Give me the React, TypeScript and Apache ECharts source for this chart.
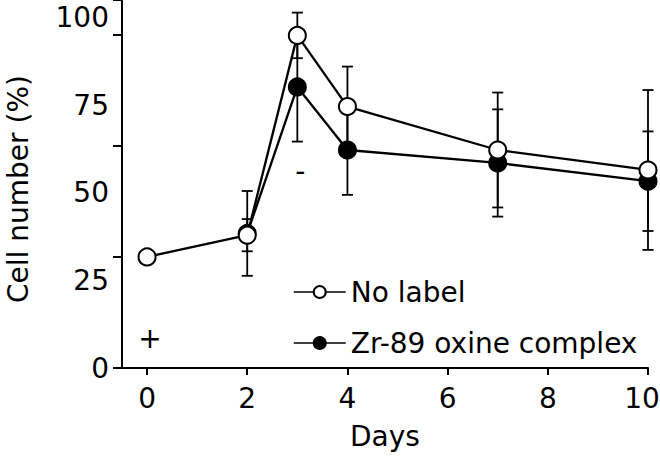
import React, { useEffect, useRef } from "react";
import * as echarts from "echarts";

const FONT = "DejaVu Sans";

const days = [0, 2, 3, 4, 7, 10];
const noLabel = [31.7, 37.9, 94.9, 74.6, 62.2, 56.5];
const noLabelErr = [0, 4.6, 6.5, 11.4, 16.4, 22.8];

const zrDays = [2, 3, 4, 7, 10];
const zr = [38.4, 80.2, 62.2, 58.5, 53.3];
const zrErr = [12.1, 15.6, 12.8, 15.3, 14.2];

const xTicks = [0, 2, 4, 6, 8, 10];
const yLabelTicks = [0, 25, 50, 75, 100];

const annotations = [
  { day: 0, y: 8.3, text: "+" },
  { day: 3, y: 56.2, text: "-" },
];

const seriesNames = ["No label", "Zr-89 oxine complex"];

export default function App() {
  const ref = useRef<HTMLDivElement>(null);

  useEffect(() => {
    if (!ref.current) return;
    const chart = echarts.init(ref.current, undefined, { renderer: "svg" });

    const errData: number[][] = [];
    days.forEach((d, i) => {
      if (noLabelErr[i] > 0) errData.push([d, noLabel[i] - noLabelErr[i], noLabel[i] + noLabelErr[i]]);
    });
    zrDays.forEach((d, i) => {
      if (zrErr[i] > 0) errData.push([d, zr[i] - zrErr[i], zr[i] + zrErr[i]]);
    });

    const txt = { fontFamily: FONT, fontSize: 28, color: "#000" };
    const lastTick = xTicks[xTicks.length - 1];

    chart.setOption({
      animation: false,
      textStyle: { fontFamily: FONT },
      grid: { left: 122, top: 0, width: 526, height: 368, outerBoundsMode: "none", containLabel: false },
      legend: {
        data: seriesNames,
        orient: "vertical",
        left: 293,
        top: 278,
        padding: 0,
        itemWidth: 52,
        itemHeight: 15,
        itemGap: 23,
        textStyle: txt,
        selectedMode: false,
        lineStyle: { width: 1.5 },
      },
      xAxis: {
        type: "value",
        min: -0.5,
        max: 10,
        name: "Days",
        nameLocation: "middle",
        nameGap: 54,
        nameTextStyle: txt,
        axisLine: { onZero: false, lineStyle: { color: "#000", width: 2 } },
        axisTick: { customValues: xTicks, length: 7, lineStyle: { color: "#000", width: 2 } },
        axisLabel: {
          customValues: xTicks,
          margin: 16,
          ...txt,
          formatter: (v: number) => (v === lastTick ? `{r|${v}}` : String(v)),
          rich: { r: { ...txt, padding: [0, 12, 0, 0] } },
        },
        splitLine: { show: false },
      },
      yAxis: [
        {
          type: "value",
          position: "left",
          min: 0,
          max: 105,
          interval: 25,
          name: "Cell number (%)",
          nameLocation: "middle",
          nameGap: 90,
          nameTextStyle: { ...txt, padding: [0, 10, 0, 0] },
          axisLine: { show: true, onZero: false, lineStyle: { color: "#000", width: 2 } },
          axisTick: { show: false },
          axisLabel: {
            margin: 13,
            ...txt,
            formatter: (v: number) => (yLabelTicks.includes(v) ? String(v) : ""),
          },
          splitLine: { show: false },
        },
        {
          type: "value",
          position: "left",
          offset: 0,
          min: 0,
          max: 105,
          interval: 31.73,
          axisLine: { show: false, onZero: false },
          axisTick: { show: true, length: 9, lineStyle: { color: "#000", width: 2 } },
          axisLabel: { show: false },
          splitLine: { show: false },
        },
      ],
      series: [
        {
          type: "custom",
          name: "err",
          z: 1,
          data: errData,
          encode: { x: 0, y: [1, 2] },
          silent: true,
          renderItem: (params: any, api: any) => {
            const x = api.value(0);
            const p1 = api.coord([x, api.value(1)]);
            const p2 = api.coord([x, api.value(2)]);
            const w = 5.5;
            const style = { stroke: "#000", lineWidth: 1.8, fill: "none" };
            return {
              type: "group",
              children: [
                { type: "line", shape: { x1: p1[0], y1: p1[1], x2: p2[0], y2: p2[1] }, style },
                { type: "line", shape: { x1: p1[0] - w, y1: p1[1], x2: p1[0] + w, y2: p1[1] }, style },
                { type: "line", shape: { x1: p2[0] - w, y1: p2[1], x2: p2[0] + w, y2: p2[1] }, style },
              ],
            };
          },
        },
        {
          type: "line",
          name: seriesNames[1],
          z: 2,
          data: zrDays.map((d, i) => [d, zr[i]]),
          symbol: "circle",
          symbolSize: 17,
          itemStyle: { color: "#000", borderColor: "#000", borderWidth: 2 },
          lineStyle: { color: "#000", width: 2.3 },
        },
        {
          type: "line",
          name: seriesNames[0],
          z: 3,
          data: days.map((d, i) => [d, noLabel[i]]),
          symbol: "circle",
          symbolSize: 17,
          itemStyle: { color: "#fff", borderColor: "#000", borderWidth: 2 },
          lineStyle: { color: "#000", width: 2.3 },
        },
        {
          type: "custom",
          name: "annotations",
          z: 4,
          silent: true,
          data: annotations.map((a) => [a.day, a.y]),
          encode: { x: 0, y: 1 },
          renderItem: (params: any, api: any) => {
            const p = api.coord([api.value(0), api.value(1)]);
            return {
              type: "text",
              x: p[0] + 3,
              y: p[1],
              style: {
                text: annotations[params.dataIndex].text,
                fill: "#000",
                font: `28px ${FONT}`,
                align: "center",
                verticalAlign: "middle",
              },
            };
          },
        },
      ],
    });

    return () => chart.dispose();
  }, []);

  return (
    <div
      ref={ref}
      style={{ position: "fixed", left: 0, top: 0, width: 660, height: 456, background: "#fff" }}
    />
  );
}
